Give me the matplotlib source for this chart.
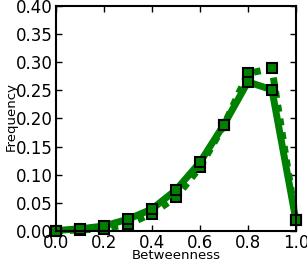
import matplotlib
matplotlib.use("Agg")
import matplotlib.pyplot as plt

# betweenness bins and frequencies for the two series
x = [0.0, 0.1, 0.2, 0.3, 0.4, 0.5, 0.6, 0.7, 0.8, 0.9, 1.0]
solid = [0.001, 0.004, 0.009, 0.021, 0.039, 0.073, 0.122, 0.189, 0.265, 0.251, 0.019]
dotted = [0.0, 0.002, 0.004, 0.012, 0.031, 0.060, 0.113, 0.188, 0.280, 0.289, 0.019]

xticks = [0.0, 0.2, 0.4, 0.6, 0.8, 1.0]
yticks = [0.0, 0.05, 0.10, 0.15, 0.20, 0.25, 0.30, 0.35, 0.40]

fig = plt.figure(figsize=(3.07, 2.69), dpi=100)
ax = fig.add_axes([0.182, 0.141, 0.782, 0.837])

ax.plot(x, dotted, color='g', linestyle=(0, (1, 1)), linewidth=5, marker='s',
        markersize=7, markerfacecolor='g', markeredgecolor='k', markeredgewidth=1.5, clip_on=False)
ax.plot(x, solid, color='g', linestyle='-', linewidth=5, marker='s',
        markersize=7, markerfacecolor='g', markeredgecolor='k', markeredgewidth=1.5, clip_on=False)

ax.set_xlim(0, 1.0)
ax.set_ylim(0, 0.40)
ax.set_xticks(xticks)
ax.set_yticks(yticks)
ax.set_xticklabels(["%.1f" % t for t in xticks])
ax.set_yticklabels(["%.2f" % t for t in yticks])
ax.tick_params(direction='in', top=True, right=True, labelsize=12, length=4, width=1, pad=2)
for s in ax.spines.values():
    s.set_linewidth(1.5)

ax.set_xlabel("Betweenness", fontsize=9.5)
ax.set_ylabel("Frequency", fontsize=9.5)
ax.xaxis.set_label_coords(0.5, -0.078)
ax.yaxis.set_label_coords(-0.16, 0.507)

plt.savefig('out.png', dpi=100)
